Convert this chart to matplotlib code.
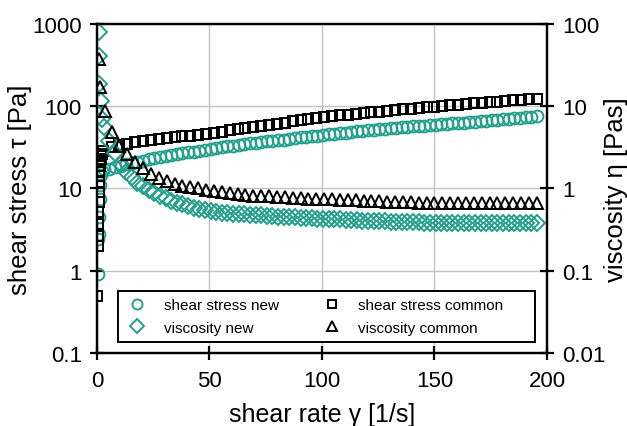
import matplotlib
matplotlib.use("Agg")
import matplotlib.pyplot as plt
from matplotlib.patches import Rectangle
from matplotlib.ticker import FixedLocator, NullLocator

plt.rcParams['font.family'] = ['Liberation Sans', 'DejaVu Sans']

TEAL = '#22a08c'

# shear stress, common sample (squares): low-rate cluster + ramp
rate_common_low = [0.1, 0.3, 0.4, 0.5, 0.6, 0.7, 0.8, 0.9, 1.0, 1.1, 1.2, 1.4, 1.6, 1.9, 2.3, 2.8]
stress_common_low = [0.49, 2.0, 2.65, 3.7, 5.2, 6.9, 9.1, 12.0, 14.2, 16.3, 18.8, 21.0, 22.9, 24.8, 26.3, 28.5]

rate_common = [6.5, 10, 13.5, 17, 20.5, 24, 27.5, 31, 34.5, 38,
               41.5, 45, 48.5, 52, 55.5, 59, 62.5, 66, 69.5, 73,
               76.5, 80, 83.5, 87, 90.5, 94, 97.5, 101, 104.5, 108,
               111.5, 115, 118.5, 122, 125.5, 129, 132.5, 136, 139.5, 143,
               146.5, 150, 153.5, 157, 160.5, 164, 167.5, 171, 174.5, 178,
               181.5, 185, 188.5, 192, 195.5]
stress_common = [32.0, 33.8, 35.2, 36.3, 37.4, 38.5, 39.6, 40.8, 41.9, 43.0,
                 44.0, 45.2, 46.4, 47.7, 49.2, 50.7, 52.3, 54.0, 55.8, 57.5,
                 59.3, 61.3, 63.3, 65.3, 67.5, 69.6, 71.8, 73.6, 75.4, 77.2,
                 79.0, 80.7, 82.4, 84.1, 85.8, 87.6, 89.5, 91.5, 93.4, 95.4,
                 97.3, 99.2, 101.0, 102.8, 104.6, 106.4, 108.2, 110.0, 111.8, 113.8,
                 115.8, 117.8, 119.8, 121.8, 124.0]

# viscosity, common sample (triangles)
rate_visc_common_low = [0.9, 1.3, 3.5]
visc_common_low = [37.5, 17.1, 8.75]
visc_common = [4.9, 3.3, 2.6, 2.1, 1.77, 1.52, 1.35, 1.22, 1.14, 1.08,
               1.04, 1.0, 0.97, 0.93, 0.90, 0.88, 0.86, 0.84, 0.82, 0.81,
               0.80, 0.79, 0.78, 0.77, 0.76, 0.755, 0.75, 0.74, 0.735, 0.73,
               0.72, 0.715, 0.71, 0.70, 0.695, 0.69, 0.685, 0.68, 0.68, 0.675,
               0.67, 0.67, 0.67, 0.665, 0.665, 0.665, 0.66, 0.66, 0.66, 0.66,
               0.66, 0.66, 0.66, 0.66, 0.66]

# new sample: circles (stress) and diamonds (viscosity)
rate_stress_new_low = [0.3, 0.6, 0.8, 1.0, 1.2, 1.5, 1.8, 2.2]
stress_new_low = [0.9, 2.4, 2.8, 4.5, 7.5, 11.0, 14.5, 16.5]
rate_visc_new_low = [0.8, 0.9, 1.0, 1.6, 2.2]
visc_new_low = [80.0, 40.8, 18.6, 11.6, 7.0]

rate_new = [3, 5.5, 8, 10.5, 13, 15.5, 18, 20.5, 23, 25.5,
            28, 30.5, 33, 35.5, 38, 40.5, 43, 45.5, 48, 50.5,
            53, 55.5, 58, 60.5, 63, 65.5, 68, 70.5, 73, 75.5,
            78, 80.5, 83, 85.5, 88, 90.5, 93, 95.5, 98, 100.5,
            103, 105.5, 108, 110.5, 113, 115.5, 118, 120.5, 123, 125.5,
            128, 130.5, 133, 135.5, 138, 140.5, 143, 145.5, 148, 150.5,
            153, 155.5, 158, 160.5, 163, 165.5, 168, 170.5, 173, 175.5,
            178, 180.5, 183, 185.5, 188, 190.5, 193, 195.5]
stress_new = [17.1, 17.4, 18.2, 19.0, 19.6, 20.3, 21.0, 21.7, 22.6, 23.5,
              24.2, 25.0, 25.6, 26.2, 26.8, 27.4, 28.0, 28.7, 29.5, 30.3,
              31.2, 32.0, 32.7, 33.3, 34.0, 34.6, 35.3, 36.0, 36.6, 37.3,
              38.0, 38.7, 39.4, 40.2, 41.0, 41.7, 42.5, 43.3, 44.0, 44.8,
              45.5, 46.3, 47.0, 47.8, 48.6, 49.4, 50.2, 51.0, 51.8, 52.6,
              53.3, 54.0, 54.7, 55.4, 56.1, 56.7, 57.4, 58.1, 58.8, 59.4,
              60.2, 61.0, 61.8, 62.6, 63.4, 64.2, 65.0, 65.8, 66.7, 67.6,
              68.5, 69.4, 70.3, 71.2, 72.2, 73.2, 74.2, 75.2]
visc_new = [5.6, 3.8, 2.7, 2.0, 1.6, 1.36, 1.18, 1.06, 0.96, 0.88,
            0.81, 0.76, 0.71, 0.67, 0.64, 0.61, 0.58, 0.56, 0.54, 0.53,
            0.52, 0.51, 0.50, 0.495, 0.49, 0.485, 0.48, 0.475, 0.47, 0.465,
            0.46, 0.455, 0.45, 0.45, 0.445, 0.44, 0.44, 0.435, 0.43, 0.43,
            0.425, 0.42, 0.42, 0.415, 0.41, 0.41, 0.405, 0.405, 0.40, 0.40,
            0.40, 0.395, 0.395, 0.39, 0.39, 0.39, 0.39, 0.385, 0.385, 0.385,
            0.385, 0.385, 0.38, 0.38, 0.38, 0.38, 0.38, 0.38, 0.38, 0.38,
            0.38, 0.38, 0.38, 0.38, 0.38, 0.38, 0.38, 0.38]

STRESS_TICKS = [0.1, 1, 10, 100, 1000]
VISC_TICKS = [0.01, 0.1, 1, 10, 100]


def style_axis(ax):
    ax.tick_params(direction='inout', length=10, width=1.6, labelsize=16, pad=6)
    ax.tick_params(axis='x', pad=7)
    for s in ax.spines.values():
        s.set_linewidth(1.6)


fig = plt.figure(figsize=(6.27, 4.27), dpi=100)
ax1 = fig.add_axes([0.1547, 0.171, 0.7177, 0.7705])
ax2 = ax1.twinx()

mk = dict(linestyle='none', mfc='none', mew=1.4)
ax1.plot(rate_stress_new_low + rate_new, stress_new_low + stress_new,
         marker='o', ms=8.5, mec=TEAL, label='shear stress new', **mk)
ax2.plot(rate_visc_new_low + rate_new, visc_new_low + visc_new,
         marker='D', ms=7.8, mec=TEAL, label='viscosity new', **mk)
ax1.plot(rate_common_low + rate_common, stress_common_low + stress_common,
         marker='s', ms=7.2, mec='black', label='shear stress common', **mk)
ax2.plot(rate_visc_common_low + rate_common, visc_common_low + visc_common,
         marker='^', ms=8.8, mec='black', label='viscosity common', **mk)

ax1.set_xlim(0, 200)
ax1.set_yscale('log')
ax1.set_ylim(0.1, 1000)
ax1.yaxis.set_major_locator(FixedLocator(STRESS_TICKS))
ax1.set_yticklabels(['0.1', '1', '10', '100', '1000'])
ax1.yaxis.set_minor_locator(NullLocator())
ax1.set_xticks([0, 50, 100, 150, 200])
ax1.grid(True, color='#c4c4c4', linewidth=1.0)
ax1.set_axisbelow(True)

ax2.set_yscale('log')
ax2.set_ylim(0.01, 100)
ax2.yaxis.set_major_locator(FixedLocator(VISC_TICKS))
ax2.set_yticklabels(['0.01', '0.1', '1', '10', '100'])
ax2.yaxis.set_minor_locator(NullLocator())

style_axis(ax1)
style_axis(ax2)

ax1.set_xlabel('shear rate γ [1/s]', fontsize=18, labelpad=8)
ax1.set_ylabel('shear stress τ [Pa]', fontsize=18.5)
ax2.set_ylabel('viscosity η [Pas]', fontsize=18.5)
ax1.yaxis.set_label_coords(-0.144, 0.5)
ax2.yaxis.set_label_coords(1.127, 0.5)

# legend frame (opaque white box spanning most of the axes width)
ax2.add_patch(Rectangle((0.047, 0.033), 0.926, 0.155, transform=ax2.transAxes,
                        facecolor='white', edgecolor='black', linewidth=1.4,
                        zorder=5))

h1, l1 = ax1.get_legend_handles_labels()
h2, l2 = ax2.get_legend_handles_labels()
handles = [h1[0], h2[0], h1[1], h2[1]]
labels = [l1[0], l2[0], l1[1], l2[1]]
leg = ax2.legend(handles, labels, ncol=2, loc='center left',
                 bbox_to_anchor=(0.064, 0.111), fontsize=11, frameon=False,
                 markerscale=0.85, handlelength=1.5, handletextpad=1.0,
                 borderpad=0, borderaxespad=0, columnspacing=2.7,
                 labelspacing=0.55)
leg.set_zorder(6)

fig.savefig('out.png', dpi=100)
